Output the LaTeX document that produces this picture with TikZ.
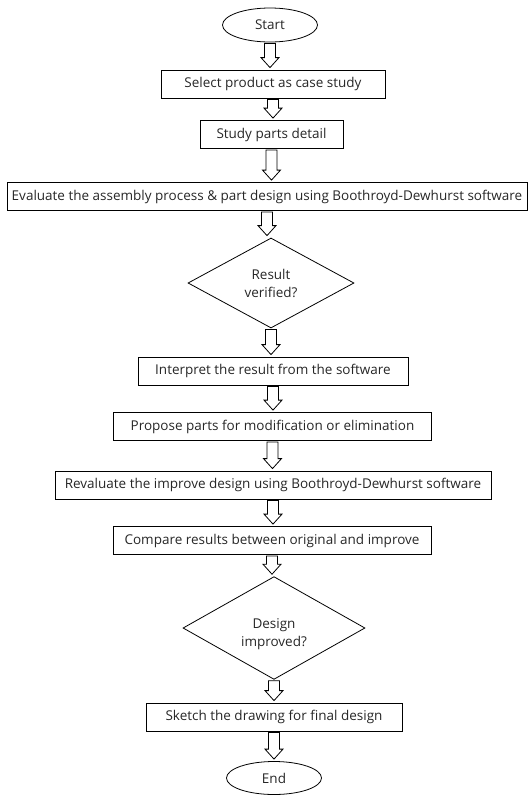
\documentclass[tikz,border=0pt]{standalone}
\usepackage{fontspec}
\setmainfont{Open Sans}
\usetikzlibrary{shapes.geometric,calc}
\newcommand\hollowarrow[2]{%
  \draw[flowarrow] let \p1=($(#1.south)+(0,-1pt)$), \p2=($(#2.north)+(0,2pt)$) in
    (\x1-5.5pt,\y1) -- (\x1-5.5pt,\y2+10pt) -- (\x1-9pt,\y2+10pt) -- (\x1,\y2)
    -- (\x1+9pt,\y2+10pt) -- (\x1+5.5pt,\y2+10pt) -- (\x1+5.5pt,\y1) -- cycle;}
\newcommand\lowtext[2]{\raisebox{-#1}[\height][\depth]{\begin{tabular}{@{}c@{}}#2\end{tabular}}}
\begin{document}
\begin{tikzpicture}[x=1pt,y=-1pt,
  txt/.style={font=\fontsize{13.5}{18.5}\selectfont, text=black!85},
  boxnode/.style={txt, draw, rectangle, minimum height=28pt, inner sep=0pt, line width=0.8pt},
  termnode/.style={txt, draw, ellipse, minimum width=95pt, minimum height=34pt, inner sep=0pt, line width=0.8pt},
  decnode/.style={txt, draw, diamond, inner sep=0pt, line width=0.8pt},
  flowarrow/.style={draw, line width=0.8pt, fill=white, line join=miter}]
\useasboundingbox (0,0) rectangle (532,796);
\node[termnode] (start) at (270,25) {Start};
\node[boxnode, minimum width=224pt] (b1) at (273,84) {Select product as case study};
\node[boxnode, minimum width=143pt] (b2) at (271.5,134.5) {Study parts detail};
\node[boxnode, minimum width=520pt] (b3) at (267,196.5) {Evaluate the assembly process \& part design using Boothroyd-Dewhurst software};
\node[decnode, minimum width=166pt, minimum height=90pt] (d1) at (271,283) {\lowtext{2pt}{Result\\verified?}};
\node[boxnode, minimum width=270pt] (b4) at (273,371) {Interpret the result from the software};
\node[boxnode, minimum width=318pt] (b5) at (272.5,426.5) {Propose parts for modification or elimination};
\node[boxnode, minimum width=436pt] (b6) at (273,485) {Revaluate the improve design using Boothroyd-Dewhurst software};
\node[boxnode, minimum width=318pt] (b7) at (272,540.5) {Compare results between original and improve};
\node[decnode, minimum width=182pt, minimum height=95pt] (d2) at (274,628) {\lowtext{6pt}{Design\\improved?}};
\node[boxnode, minimum width=256pt] (b8) at (274,717) {Sketch the drawing for final design};
\node[termnode, minimum width=95pt, minimum height=33pt] (end) at (274,778) {End};
\hollowarrow{start}{b1}
\hollowarrow{b1}{b2}
\hollowarrow{b2}{b3}
\hollowarrow{b3}{d1}
\hollowarrow{d1}{b4}
\hollowarrow{b4}{b5}
\hollowarrow{b5}{b6}
\hollowarrow{b6}{b7}
\hollowarrow{b7}{d2}
\hollowarrow{d2}{b8}
\hollowarrow{b8}{end}
\end{tikzpicture}
\end{document}
